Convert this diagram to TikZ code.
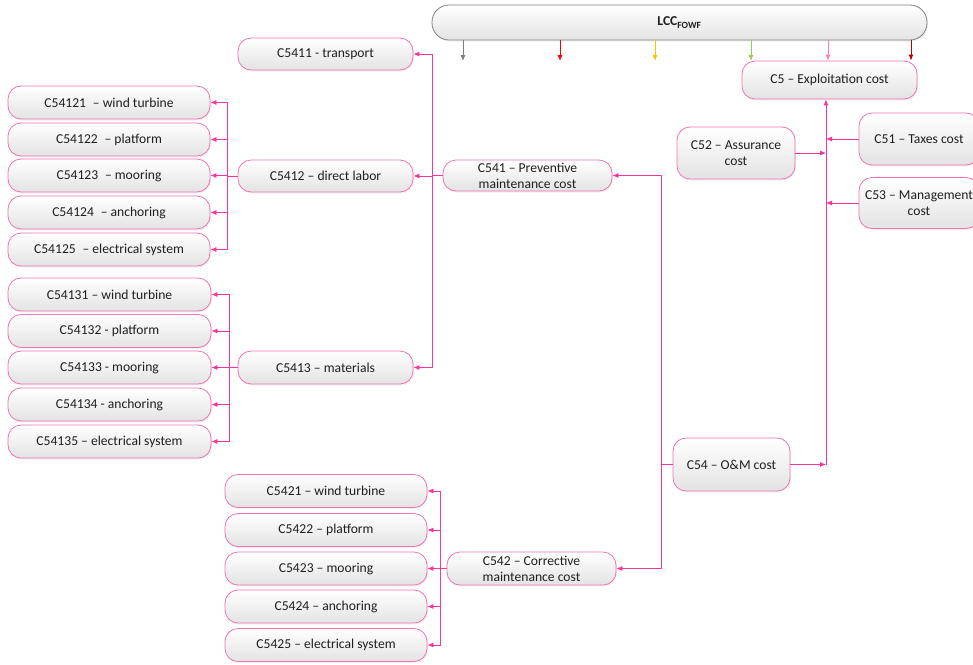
\documentclass[tikz,border=0pt]{standalone}
\usepackage{fontspec}
\setmainfont{Carlito}
\usetikzlibrary{arrows.meta,shadows}

\definecolor{boxpink}{HTML}{F272B4}
\definecolor{linkpink}{HTML}{FF3399}
\definecolor{tipgray}{HTML}{7F7F7F}
\definecolor{tipred}{HTML}{FF0000}
\definecolor{tipyellow}{HTML}{FFC000}
\definecolor{tipgreen}{HTML}{92D050}
\definecolor{tippink}{HTML}{FF7DB5}
\definecolor{tipdark}{HTML}{C00000}

\tikzset{
  costbox/.style={draw=boxpink, line width=0.8pt, rounded corners=13pt,
    top color=white, bottom color=black!11, text=black!88,
    font=\fontsize{13.6}{16}\selectfont, align=center, inner sep=0pt,
    minimum height=33pt,
    drop shadow={opacity=0.12, shadow xshift=1pt, shadow yshift=-1.5pt}},
  topbox/.style={costbox, draw=black!50, rounded corners=17pt},
  link/.style={draw=linkpink, line width=0.8pt},
  linkarr/.style={link, -{Latex[length=6pt,width=5pt]}},
  toparr/.style={line width=0.9pt, -{Latex[length=6pt,width=5pt]}},
}

\begin{document}
\begin{tikzpicture}[x=1pt,y=-1pt]
\useasboundingbox (0,0) rectangle (973,664);

% top level
\node[topbox, minimum width=495pt, minimum height=35pt] (lcc) at (679.5,22.5)
  {\textbf{LCC}\textsubscript{\textbf{FOWF}}};
\node[costbox, minimum width=175pt, minimum height=38pt] (c5) at (829.5,80) {C5 -- Exploitation cost};

% C5 components
\node[costbox, minimum width=118pt, minimum height=52pt] (c52) at (736,153) {C52 -- Assurance\\cost};
\node[costbox, minimum width=120pt, minimum height=52pt] (c51) at (919,139) {C51 -- Taxes cost};
\node[costbox, minimum width=120pt, minimum height=51pt] (c53) at (919,203) {C53 -- Management\\cost};
\node[costbox, minimum width=117pt, minimum height=53pt] (c54) at (731.5,464.5) {C54 -- O\&M cost};

% maintenance branches
\node[costbox, minimum width=169pt, minimum height=31pt] (c541) at (527.5,175.5) {C541 -- Preventive\\maintenance cost};
\node[costbox, minimum width=169pt, minimum height=33pt] (c542) at (531.5,568.5) {C542 -- Corrective\\maintenance cost};

% preventive maintenance
\node[costbox, minimum width=175pt, minimum height=32pt] (c5411) at (325.5,54) {C5411 - transport};
\node[costbox, minimum width=175pt, minimum height=32pt] (c5412) at (325.5,176) {C5412 -- direct labor};
\node[costbox, minimum width=175pt, minimum height=33pt] (c5413) at (325.5,367.5) {C5413 -- materials};

% direct labor items
\node[costbox, minimum width=202pt] (c54121) at (109,102.5) {C54121\enspace-- wind turbine};
\node[costbox, minimum width=202pt] (c54122) at (109,139.5) {C54122\enspace-- platform};
\node[costbox, minimum width=202pt] (c54123) at (109,175.5) {C54123\enspace-- mooring};
\node[costbox, minimum width=202pt] (c54124) at (109,212.5) {C54124\enspace-- anchoring};
\node[costbox, minimum width=202pt] (c54125) at (109,249.5) {C54125\enspace-- electrical system};

% materials items
\node[costbox, minimum width=203pt] (c54131) at (109.5,294.5) {C54131 -- wind turbine};
\node[costbox, minimum width=203pt] (c54132) at (109.5,331) {C54132 - platform};
\node[costbox, minimum width=203pt] (c54133) at (109.5,367.5) {C54133 - mooring};
\node[costbox, minimum width=203pt] (c54134) at (109.5,404.5) {C54134 - anchoring};
\node[costbox, minimum width=203pt] (c54135) at (109.5,441.5) {C54135 -- electrical system};

% corrective maintenance items
\node[costbox, minimum width=202pt] (c5421) at (326,491) {C5421 -- wind turbine};
\node[costbox, minimum width=202pt] (c5422) at (326,530) {C5422 -- platform};
\node[costbox, minimum width=202pt] (c5423) at (326,568.5) {C5423 -- mooring};
\node[costbox, minimum width=202pt] (c5424) at (326,606.5) {C5424 -- anchoring};
\node[costbox, minimum width=202pt] (c5425) at (326,645) {C5425 -- electrical system};

% arrows leaving the LCC bar
\coordinate (t1) at (463,61);
\coordinate (t2) at (560,61);
\coordinate (t3) at (655,61);
\coordinate (t4) at (751,61);
\coordinate (t5) at (828,61);
\coordinate (t6) at (911,61);
\draw[toparr, tipgray]   (lcc.south -| t1) -- (t1);
\draw[toparr, tipred]    (lcc.south -| t2) -- (t2);
\draw[toparr, tipyellow] (lcc.south -| t3) -- (t3);
\draw[toparr, tipgreen]  (lcc.south -| t4) -- (t4);
\draw[toparr, tippink]   (lcc.south -| t5) -- (c5.north -| t5);
\draw[toparr, tipdark]   (lcc.south -| t6) -- (c5.north -| t6);

% C5 bus
\coordinate (bus5) at (826,464.5);
\draw[linkarr] (bus5) -- (bus5 |- c5.south);
\draw[linkarr] (c54.east) -- (bus5);
\draw[linkarr] (c51.west) -- (c51.west -| bus5);
\draw[linkarr] (c52.east) -- (c52.east -| bus5);
\draw[linkarr] (c53.west) -- (c53.west -| bus5);

% C54 bus
\coordinate (j54) at (661,464.5);
\draw[link] (c54.west) -- (j54);
\draw[linkarr] (j54) |- (c541.east);
\draw[linkarr] (j54) |- (c542.east);

% C541 bus
\coordinate (j541) at (432,175.5);
\draw[link] (c541.west) -- (j541);
\draw[linkarr] (j541) |- (c5411.east);
\draw[linkarr] (j541) |- (c5412.east);
\draw[linkarr] (j541) |- (c5413.east);

% C5412 bus
\coordinate (j5412) at (227,176);
\draw[link] (c5412.west) -- (j5412);
\foreach \n in {c54121,c54122,c54123,c54124,c54125}
  \draw[linkarr] (j5412) |- (\n.east);

% C5413 bus
\coordinate (j5413) at (229,367.5);
\draw[link] (c5413.west) -- (j5413);
\foreach \n in {c54131,c54132,c54133,c54134,c54135}
  \draw[linkarr] (j5413) |- (\n.east);

% C542 bus
\coordinate (j542) at (440,568.5);
\draw[link] (c542.west) -- (j542);
\foreach \n in {c5421,c5422,c5423,c5424,c5425}
  \draw[linkarr] (j542) |- (\n.east);
\end{tikzpicture}
\end{document}
